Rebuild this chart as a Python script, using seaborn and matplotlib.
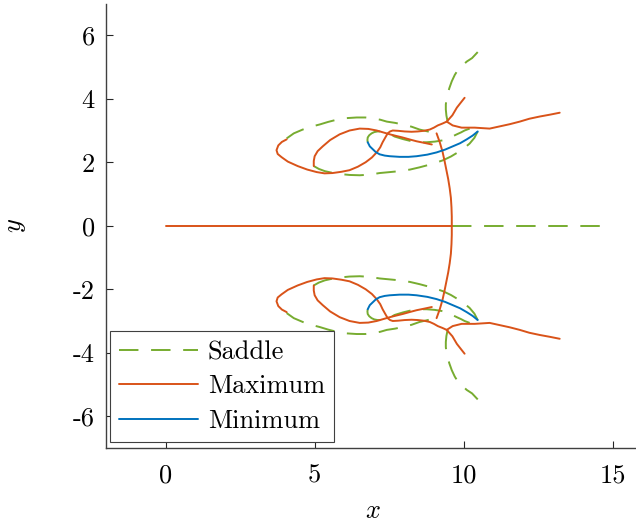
import matplotlib
matplotlib.use("Agg")
import matplotlib.pyplot as plt
import pandas as pd
import seaborn as sns

# ---------------- data ----------------
kinds = ["Saddle", "Maximum", "Minimum"]
colors = {"Saddle": "#77AC30", "Maximum": "#D95319", "Minimum": "#0072BD"}

x_ticks = [0, 5, 10, 15]
x_tick_labels = ["0", "5", "10", "15"]
y_ticks = [-6, -4, -2, 0, 2, 4, 6]
y_tick_labels = ["-6", "-4", "-2", "0", "2", "4", "6"]

# trivial branch
max_h_x = [0.0, 9.60]
max_h_y = [0.0, 0.0]
sad_h_x = [9.60, 14.56]
sad_h_y = [0.0, 0.0]

# vertical maximum branch (crosses y = 0)
max_v_x = [9.09, 9.20, 9.29, 9.36, 9.42, 9.48, 9.53, 9.57, 9.59, 9.60, 9.60,
           9.60, 9.59, 9.57, 9.53, 9.48, 9.42, 9.36, 9.29, 9.20, 9.09]
max_v_y = [2.91, 2.62, 2.33, 2.03, 1.75, 1.47, 1.18, 0.88, 0.58, 0.29, 0.0,
           -0.29, -0.58, -0.88, -1.18, -1.47, -1.75, -2.03, -2.33, -2.62, -2.91]

# maximum: outer loop
max_outer_x = [4.06, 3.90, 3.78, 3.72, 3.76, 3.89, 4.10, 4.43, 4.75, 5.07, 5.33, 5.60, 5.90,
               6.17, 6.45, 6.71, 6.92, 7.08, 7.20, 7.28, 7.37, 7.45, 7.53, 7.62, 7.80, 8.02,
               8.25, 8.46, 8.66, 8.86, 9.00, 9.13, 9.29, 9.43, 9.62, 9.77, 9.92, 10.03]
max_outer_up_y = [2.72, 2.64, 2.53, 2.38, 2.26, 2.16, 2.02, 1.88, 1.77, 1.69, 1.65, 1.66, 1.70,
                  1.75, 1.86, 2.00, 2.15, 2.31, 2.47, 2.63, 2.78, 2.91, 2.97, 3.00, 2.99, 2.97,
                  2.96, 2.97, 2.99, 3.03, 3.09, 3.16, 3.22, 3.28, 3.48, 3.72, 3.90, 4.03]
max_outer_lo_y = [-2.72, -2.64, -2.53, -2.38, -2.26, -2.16, -2.02, -1.88, -1.77, -1.69, -1.65, -1.66, -1.70,
                  -1.75, -1.86, -2.00, -2.15, -2.31, -2.47, -2.63, -2.78, -2.91, -2.97, -3.00, -2.99, -2.97,
                  -2.96, -2.97, -2.99, -3.03, -3.09, -3.16, -3.22, -3.28, -3.48, -3.72, -3.90, -4.03]

# maximum: inner loop
max_inner_x = [4.97, 4.97, 5.00, 5.10, 5.27, 5.52, 5.84, 6.17, 6.51, 6.80, 7.08, 7.30,
               7.52, 7.73, 7.95, 8.18, 8.42, 8.68, 8.93]
max_inner_up_y = [1.88, 2.04, 2.19, 2.35, 2.50, 2.70, 2.88, 3.00, 3.06, 3.05, 3.00, 2.94,
                  2.88, 2.83, 2.78, 2.72, 2.66, 2.61, 2.56]
max_inner_lo_y = [-1.88, -2.04, -2.19, -2.35, -2.50, -2.70, -2.88, -3.00, -3.06, -3.05, -3.00, -2.94,
                  -2.88, -2.83, -2.78, -2.72, -2.66, -2.61, -2.56]

# maximum: right branch
max_right_x = [9.43, 9.63, 9.93, 10.37, 10.87, 11.21, 11.55, 11.88, 12.20, 12.55, 12.90, 13.22]
max_right_up_y = [3.28, 3.16, 3.09, 3.09, 3.06, 3.13, 3.20, 3.28, 3.37, 3.44, 3.50, 3.56]
max_right_lo_y = [-3.28, -3.16, -3.09, -3.09, -3.06, -3.13, -3.20, -3.28, -3.37, -3.44, -3.50, -3.56]

# minimum branch
min_x = [6.78, 6.85, 6.95, 7.05, 7.18, 7.35, 7.52, 7.85, 8.15, 8.42, 8.78, 9.09,
         9.38, 9.63, 9.88, 10.10, 10.30, 10.47]
min_up_y = [2.63, 2.50, 2.41, 2.32, 2.25, 2.21, 2.19, 2.17, 2.17, 2.19, 2.24, 2.31,
            2.40, 2.50, 2.60, 2.72, 2.84, 2.97]
min_lo_y = [-2.63, -2.50, -2.41, -2.32, -2.25, -2.21, -2.19, -2.17, -2.17, -2.19, -2.24, -2.31,
            -2.40, -2.50, -2.60, -2.72, -2.84, -2.97]

# saddle: top arc
sad_top_x = [4.06, 4.30, 4.60, 4.88, 5.17, 5.45, 5.74, 6.07, 6.41, 6.70, 6.95, 7.20,
             7.42, 7.70, 7.95, 8.25, 8.52, 8.75, 8.93, 9.09]
sad_top_up_y = [2.75, 2.91, 3.03, 3.12, 3.19, 3.27, 3.34, 3.39, 3.41, 3.41, 3.38, 3.34,
                3.28, 3.24, 3.19, 3.12, 3.03, 2.98, 2.94, 2.91]
sad_top_lo_y = [-2.75, -2.91, -3.03, -3.12, -3.19, -3.27, -3.34, -3.39, -3.41, -3.41, -3.38, -3.34,
                -3.28, -3.24, -3.19, -3.12, -3.03, -2.98, -2.94, -2.91]

# saddle: bottom arc
sad_bot_x = [4.97, 5.14, 5.34, 5.58, 5.84, 6.17, 6.51, 6.85, 7.18, 7.52, 7.85, 8.20,
             8.52, 8.92, 9.30, 9.57, 9.80, 10.02, 10.20, 10.36, 10.47]
sad_bot_up_y = [1.88, 1.79, 1.72, 1.67, 1.63, 1.60, 1.59, 1.61, 1.66, 1.69, 1.72, 1.77,
                1.84, 1.94, 2.06, 2.18, 2.31, 2.45, 2.59, 2.77, 2.97]
sad_bot_lo_y = [-1.88, -1.79, -1.72, -1.67, -1.63, -1.60, -1.59, -1.61, -1.66, -1.69, -1.72, -1.77,
                -1.84, -1.94, -2.06, -2.18, -2.31, -2.45, -2.59, -2.77, -2.97]

# saddle: inner arc
sad_in_x = [6.78, 6.77, 6.78, 6.83, 6.91, 7.00, 7.11, 7.26, 7.42, 7.55, 7.68, 7.96,
            8.26, 8.50, 8.76, 9.03, 9.30, 9.55, 9.77, 9.91, 10.03, 10.20]
sad_in_up_y = [2.63, 2.70, 2.78, 2.85, 2.91, 2.95, 2.97, 2.97, 2.94, 2.88, 2.81, 2.73,
               2.66, 2.63, 2.63, 2.65, 2.69, 2.78, 2.88, 2.94, 3.00, 3.06]
sad_in_lo_y = [-2.63, -2.70, -2.78, -2.85, -2.91, -2.95, -2.97, -2.97, -2.94, -2.88, -2.81, -2.73,
               -2.66, -2.63, -2.63, -2.65, -2.69, -2.78, -2.88, -2.94, -3.00, -3.06]

# saddle: vertical arm
sad_v_x = [9.46, 9.42, 9.40, 9.40, 9.42, 9.46, 9.52, 9.60, 9.70, 9.80, 9.94, 10.10, 10.28, 10.47]
sad_v_up_y = [3.28, 3.47, 3.66, 3.82, 3.97, 4.15, 4.34, 4.55, 4.75, 4.90, 5.03, 5.17, 5.28, 5.47]
sad_v_lo_y = [-3.28, -3.47, -3.66, -3.82, -3.97, -4.15, -4.34, -4.55, -4.75, -4.90, -5.03, -5.17, -5.28, -5.47]

segments = [
    ("Saddle", "sad_h", sad_h_x, sad_h_y),
    ("Saddle", "sad_top_up", sad_top_x, sad_top_up_y),
    ("Saddle", "sad_top_lo", sad_top_x, sad_top_lo_y),
    ("Saddle", "sad_bot_up", sad_bot_x, sad_bot_up_y),
    ("Saddle", "sad_bot_lo", sad_bot_x, sad_bot_lo_y),
    ("Saddle", "sad_in_up", sad_in_x, sad_in_up_y),
    ("Saddle", "sad_in_lo", sad_in_x, sad_in_lo_y),
    ("Saddle", "sad_v_up", sad_v_x, sad_v_up_y),
    ("Saddle", "sad_v_lo", sad_v_x, sad_v_lo_y),
    ("Maximum", "max_h", max_h_x, max_h_y),
    ("Maximum", "max_v", max_v_x, max_v_y),
    ("Maximum", "max_outer_up", max_outer_x, max_outer_up_y),
    ("Maximum", "max_outer_lo", max_outer_x, max_outer_lo_y),
    ("Maximum", "max_inner_up", max_inner_x, max_inner_up_y),
    ("Maximum", "max_inner_lo", max_inner_x, max_inner_lo_y),
    ("Maximum", "max_right_up", max_right_x, max_right_up_y),
    ("Maximum", "max_right_lo", max_right_x, max_right_lo_y),
    ("Minimum", "min_up", min_x, min_up_y),
    ("Minimum", "min_lo", min_x, min_lo_y),
]

rows = []
for kind, seg, xs, ys in segments:
    for i, (xv, yv) in enumerate(zip(xs, ys)):
        rows.append({"x": xv, "y": yv, "kind": kind, "seg": seg, "i": i})
df = pd.DataFrame(rows)

# ---------------- styling ----------------
sns.set_style("ticks")
plt.rcParams.update({
    "font.family": ["cmr10", "DejaVu Serif"],
    "mathtext.fontset": "cm",
    "axes.unicode_minus": False,
    "axes.formatter.use_mathtext": True,
    "text.color": "black",
})

FS = 19
fig = plt.figure(figsize=(6.36, 5.24), dpi=100)
ax = fig.add_axes([106 / 636, 76 / 524, 530 / 636, 444.5 / 524])

sns.lineplot(
    data=df, x="x", y="y", hue="kind", style="kind", units="seg",
    estimator=None, sort=False,
    hue_order=kinds, style_order=kinds, palette=colors,
    dashes={"Saddle": (10, 6.5), "Maximum": "", "Minimum": ""},
    linewidth=1.4, ax=ax, legend=True,
)

ax.set_xlim(-2, 15.78)
ax.set_ylim(-7, 7)
ax.set_xticks(x_ticks, labels=x_tick_labels)
ax.set_yticks(y_ticks, labels=y_tick_labels)
ax.tick_params(direction="in", length=5, width=0.8, labelsize=FS,
               colors="#262626", labelcolor="black")
ax.tick_params(axis="x", pad=11)
ax.tick_params(axis="y", pad=8)
for s in ["top", "right"]:
    ax.spines[s].set_visible(False)
for s in ["left", "bottom"]:
    ax.spines[s].set_color("#404040")
    ax.spines[s].set_linewidth(1.0)

ax.set_xlabel("$x$", fontsize=FS, color="black")
ax.set_ylabel("$y$", fontsize=FS, color="black")
ax.xaxis.set_label_coords(0.504, -0.115)
ax.yaxis.set_label_coords(-0.148, 0.5)

handles, labels = ax.get_legend_handles_labels()
sel = [(h, l) for h, l in zip(handles, labels) if l in kinds]
leg = ax.legend([h for h, _ in sel], [l for _, l in sel],
                loc="lower left", bbox_to_anchor=(0.0075, 0.0135),
                borderaxespad=0, fontsize=FS, handlelength=3.0,
                handletextpad=0.35, borderpad=0.35, labelspacing=0.4,
                frameon=True, fancybox=False, framealpha=1,
                edgecolor="#404040")
leg.get_frame().set_linewidth(0.8)
for t in leg.get_texts():
    t.set_color("black")
for h in leg.get_lines():
    h.set_linewidth(1.4)

fig.savefig("out.png", dpi=100)
